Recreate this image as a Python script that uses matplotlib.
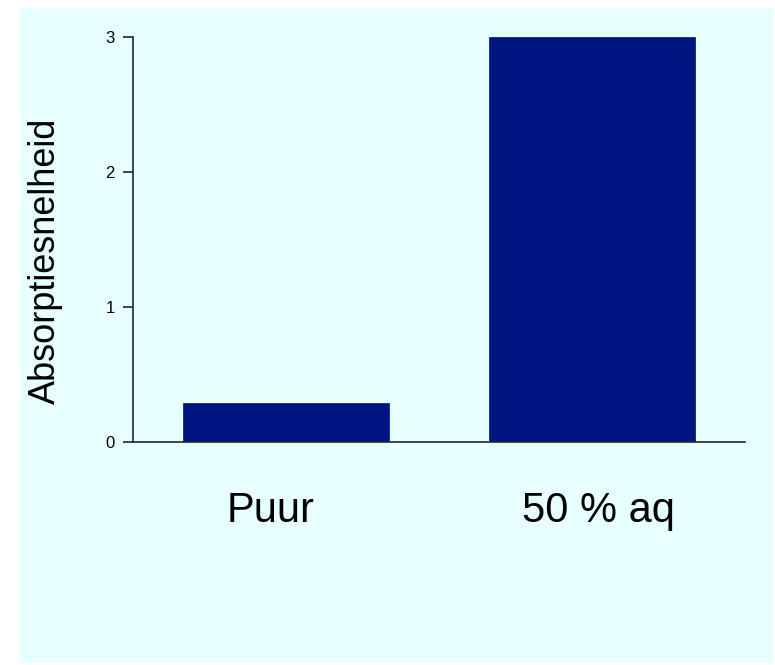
import matplotlib
matplotlib.use("Agg")
import matplotlib.pyplot as plt
from matplotlib.patches import Rectangle
import numpy as np

# Data
categories = ["Puur", "50 % aq"]
values = [0.29, 3.0]
yticks = [0, 1, 2, 3]
ylabel = "Absorptiesnelheid"

plt.rcParams['font.family'] = ['Liberation Sans', 'DejaVu Sans']

W, H = 775, 665
fig = plt.figure(figsize=(W / 100, H / 100), dpi=100, facecolor="white")

bg = "#E8FFFF"
fig.patches.append(Rectangle((20 / W, 1 - 663 / H), (773 - 20) / W, (663 - 8) / H,
                             transform=fig.transFigure, facecolor=bg, edgecolor="none", zorder=-10))

ax = fig.add_axes([133 / W, 1 - 442 / H, (745 - 133) / W, (442 - 37) / H])
ax.set_facecolor("none")
ax.set_zorder(5)

x = np.arange(len(categories))
ax.bar(x, values, width=0.67, color="#001482", edgecolor="#001482", linewidth=0.5, zorder=2)

ax.set_xlim(-0.5, 1.5)
ax.set_ylim(0, 3)

spine_col = "#1c2b2b"
for s in ["top", "right"]:
    ax.spines[s].set_visible(False)
ax.spines["left"].set_color(spine_col)
ax.spines["bottom"].set_color(spine_col)
ax.spines["left"].set_linewidth(1.2)
ax.spines["bottom"].set_linewidth(1.2)

ax.set_yticks(yticks)
ax.set_yticklabels([str(v) for v in yticks], fontsize=12)
ax.tick_params(axis="y", length=7.5, width=1.2, color=spine_col, pad=5.5, labelcolor="black")

label_dx = [-0.05, 0.02]
ax.set_xticks(x + np.array(label_dx))
ax.set_xticklabels(categories, fontsize=30)
ax.tick_params(axis="x", length=0, pad=35, labelcolor="black")

ax.set_ylabel(ylabel, fontsize=26, va="center", color="black")
ax.yaxis.set_label_coords((45 - 133) / (745 - 133), (442 - 261) / (442 - 37))

fig.savefig("out.png", dpi=100, facecolor="white")
